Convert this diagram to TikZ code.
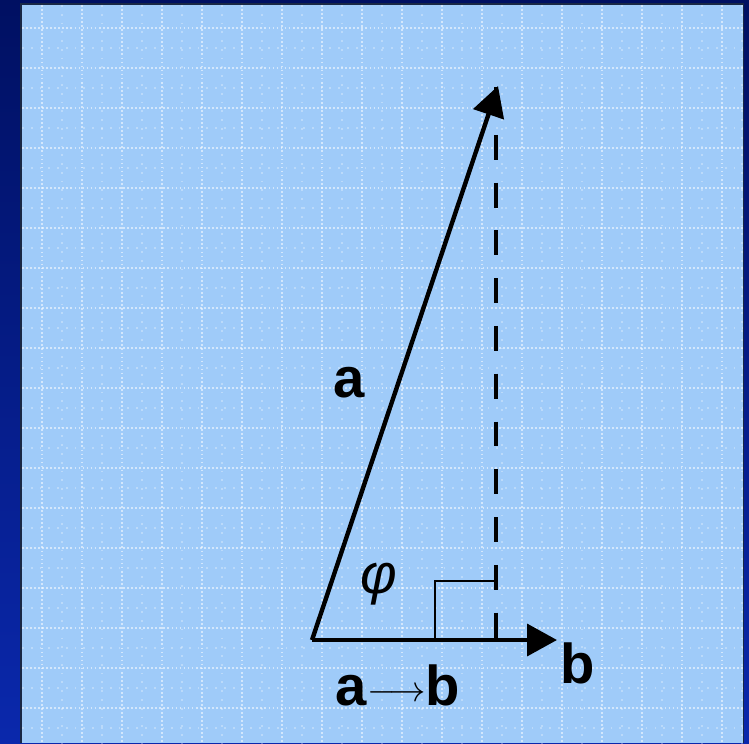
\documentclass[tikz,border=0pt]{standalone}
\usepackage{fontspec}
\setmainfont{Liberation Sans}
\usetikzlibrary{arrows.meta,positioning}

\definecolor{navytop}{RGB}{0,16,98}
\definecolor{navybot}{RGB}{10,40,172}
\definecolor{panelblue}{RGB}{159,203,249}
\definecolor{paneledge}{RGB}{25,40,70}

\begin{document}
\begin{tikzpicture}[x=0.02cm, y=-0.02cm,
    vec/.style={line width=2.5pt, -{Triangle[length=17pt, width=18pt]}},
    lbl/.style={font=\fontsize{32}{34}\selectfont\bfseries, inner sep=0pt},
    majorgrid/.style={white, opacity=0.55, line width=0.9pt, dash pattern=on 1pt off 1.3pt},
    minorgrid/.style={white, opacity=0.3, line width=0.7pt, dash pattern=on 1pt off 4pt}
]
\shade[top color=navytop, bottom color=navybot] (0,0) rectangle (749,743);
\useasboundingbox (0,0) rectangle (749,743);
\fill[paneledge] (20,3) rectangle (744,743);
\fill[panelblue] (22,5) rectangle (743,743);

% grid
\foreach \k in {0,...,17} {
  \draw[minorgrid] (62+40*\k,5) -- (62+40*\k,743);
  \draw[minorgrid] (22,48+40*\k) -- (743,48+40*\k);
  \draw[majorgrid] (42+40*\k,5) -- (42+40*\k,743);
  \draw[majorgrid] (22,28+40*\k) -- (743,28+40*\k);
}

\coordinate (O) at (312,640);
\coordinate (A) at (498,86);
\coordinate (B) at (557,640);
\coordinate (F) at (496,640);
\coordinate (T) at (496,87);

\draw[line width=1.2pt] (F) -- ++(-61,0) -- ++(0,-59) -- ++(61,0);
\draw[line width=2pt, dash pattern=on 14.2pt off 13pt] (T) -- (F);
\draw[vec] (O) -- (A);
\draw[vec] (O) -- (B);

\node[lbl, anchor=base] (la) at (349,397) {a};
\node[lbl, anchor=base] (lb) at (578,683) {b};
\node[inner sep=0pt, font=\fontsize{32}{34}\selectfont\itshape] (lphi) at (379,584) {φ};
\node[lbl, anchor=base] (lab) at (398,705)
  {a\raisebox{2pt}{\mdseries\fontsize{21}{23}\selectfont$\longrightarrow$}b};
\end{tikzpicture}
\end{document}
